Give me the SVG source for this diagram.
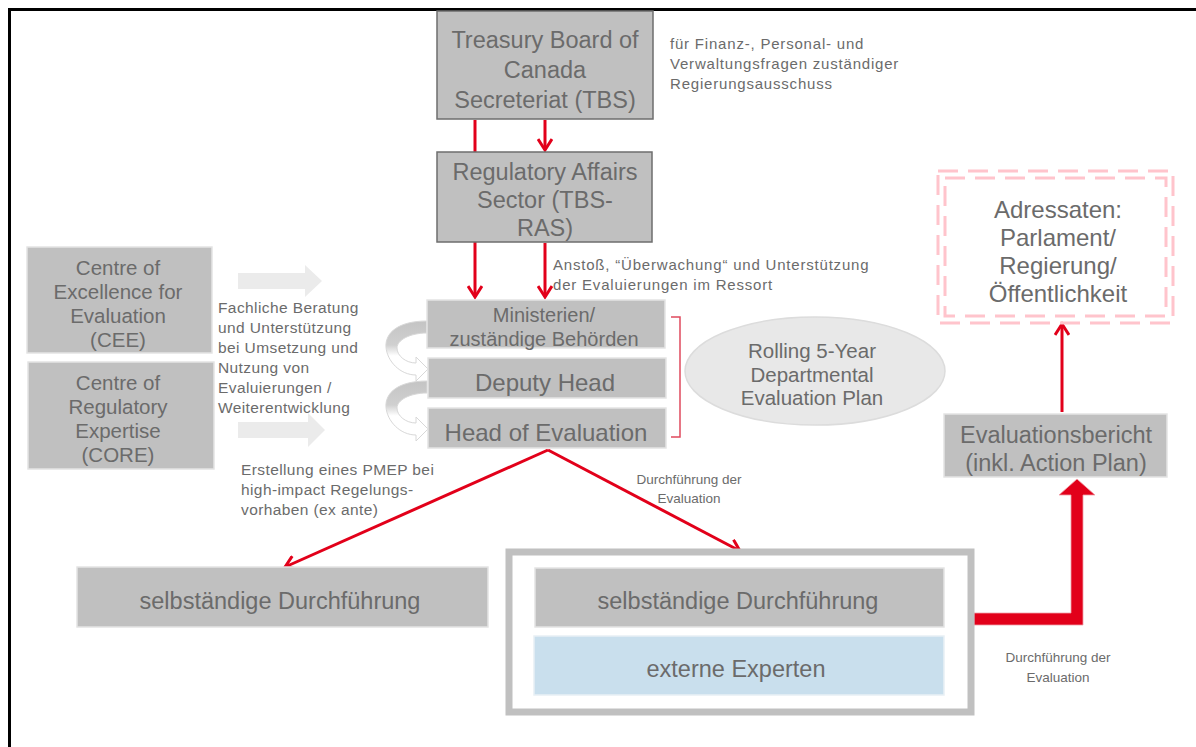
<svg xmlns="http://www.w3.org/2000/svg" width="1196" height="747" viewBox="0 0 1196 747">
<defs>
<style>
.t{font-family:"Liberation Sans",Arial,sans-serif;fill:#6b6b6b;text-anchor:middle}
.s{font-family:"Liberation Sans",Arial,sans-serif;fill:#6b6b6b}
.sm{font-size:15px;letter-spacing:0.8px}
.md{font-size:15.5px;letter-spacing:0.4px}
.box{fill:#c0c0c0;stroke:#e4e4e4;stroke-width:1.5}
.dbox{fill:#c0c0c0;stroke:#6e6e6e;stroke-width:1.5}
.red{stroke:#e2001a;stroke-width:3;fill:none}
.dash{fill:none;stroke:#ffc4cc;stroke-width:3;stroke-dasharray:20 10}
</style>
<marker id="ah2" markerWidth="16" markerHeight="16" refX="13" refY="8" orient="auto" markerUnits="userSpaceOnUse" viewBox="0 0 16 16">
<path d="M2,1 L13,8 L2,15" fill="none" stroke="#e2001a" stroke-width="3"/>
</marker>
<linearGradient id="cg" x1="0" y1="0" x2="0" y2="1">
<stop offset="0" stop-color="#c4c4c4"/>
<stop offset="0.4" stop-color="#d0d0d0"/>
<stop offset="0.58" stop-color="#ffffff"/>
<stop offset="1" stop-color="#ffffff"/>
</linearGradient>
</defs>
<rect x="0" y="0" width="1196" height="747" fill="#ffffff"/>
<rect x="9.5" y="9.5" width="1200" height="760" fill="none" stroke="#000" stroke-width="3"/>

<g id="connectors">
<line class="red" x1="475" y1="120" x2="475" y2="297" marker-end="url(#ah2)"/>
<line class="red" x1="545" y1="120" x2="545" y2="150" marker-end="url(#ah2)"/>
<line class="red" x1="545" y1="243" x2="545" y2="297" marker-end="url(#ah2)"/>
<line class="red" x1="548" y1="450" x2="285" y2="567" marker-end="url(#ah2)"/>
<line class="red" x1="548" y1="450" x2="740" y2="551" marker-end="url(#ah2)"/>
<line class="red" x1="1062" y1="412" x2="1062" y2="324" marker-end="url(#ah2)"/>
<path d="M974,613 L1071,613 L1071,495 L1059,495 L1077,479 L1095,495 L1083,495 L1083,625 L974,625 Z" fill="#e2001a" stroke="#f0a0a8" stroke-width="0.8"/>
<path d="M671,317 L680,317 L680,437 L671,437" fill="none" stroke="#e04a5e" stroke-width="1.5"/>
<path d="M238,273 L305,273 L305,265 L322,281 L305,297 L305,289 L238,289 Z" fill="#ebebeb"/>
<path d="M238,422 L308,422 L308,413 L325,430 L308,447 L308,438 L238,438 Z" fill="#ebebeb"/>
<path d="M427,321 C398,321 385,333 386,347 C387,361 400,375 416,375 L416,381 L428,369 L416,357 L416,363 C406,363 397,356 397,348 C397,340 410,333 427,333 Z" fill="url(#cg)" stroke="#d8d8d8" stroke-width="1"/>
<path d="M427,381 C398,381 385,393 386,407 C387,421 400,435 416,435 L416,441 L428,429 L416,417 L416,423 C406,423 397,416 397,408 C397,400 410,393 427,393 Z" fill="url(#cg)" stroke="#d8d8d8" stroke-width="1"/>
</g>

<g id="tbs">
<rect class="dbox" x="437" y="11" width="216" height="108"/>
<text class="t" font-size="23.5" x="545" y="48">Treasury Board of</text>
<text class="t" font-size="23.5" x="545" y="78">Canada</text>
<text class="t" font-size="23.5" x="545" y="108">Secreteriat (TBS)</text>
</g>
<text class="s sm" x="670" y="49">für Finanz-, Personal- und</text>
<text class="s sm" x="670" y="69">Verwaltungsfragen zuständiger</text>
<text class="s sm" x="670" y="89">Regierungsausschuss</text>

<g id="ras">
<rect class="dbox" x="437" y="152" width="215" height="90"/>
<text class="t" font-size="23.5" x="545" y="180">Regulatory Affairs</text>
<text class="t" font-size="23.5" x="545" y="208">Sector (TBS-</text>
<text class="t" font-size="23.5" x="545" y="236">RAS)</text>
</g>
<text class="s sm" x="553" y="270">Anstoß, “Überwachung“ und Unterstützung</text>
<text class="s sm" x="553" y="290">der Evaluierungen im Ressort</text>

<g id="cee">
<rect class="box" x="27" y="247" width="185" height="106"/>
<text class="t" font-size="20.5" x="118" y="275">Centre of</text>
<text class="t" font-size="20.5" x="118" y="299">Excellence for</text>
<text class="t" font-size="20.5" x="118" y="323">Evaluation</text>
<text class="t" font-size="20.5" x="118" y="347">(CEE)</text>
</g>
<g id="core">
<rect class="box" x="28" y="362" width="186" height="107"/>
<text class="t" font-size="20.5" x="118" y="390">Centre of</text>
<text class="t" font-size="20.5" x="118" y="414">Regulatory</text>
<text class="t" font-size="20.5" x="118" y="438">Expertise</text>
<text class="t" font-size="20.5" x="118" y="462">(CORE)</text>
</g>
<text class="s md" x="218" y="313">Fachliche Beratung</text>
<text class="s md" x="218" y="333">und Unterstützung</text>
<text class="s md" x="218" y="353">bei Umsetzung und</text>
<text class="s md" x="218" y="373">Nutzung von</text>
<text class="s md" x="218" y="393">Evaluierungen /</text>
<text class="s md" x="218" y="413">Weiterentwicklung</text>

<g id="ministerien">
<rect class="box" x="427" y="300" width="238" height="48"/>
<text class="t" font-size="20" x="544" y="322">Ministerien/</text>
<text class="t" font-size="20" x="544" y="346">zuständige Behörden</text>
</g>
<g id="deputy">
<rect class="box" x="428" y="358" width="238" height="40"/>
<text class="t" font-size="24" x="545" y="391">Deputy Head</text>
</g>
<g id="head">
<rect class="box" x="428" y="408" width="238" height="40"/>
<text class="t" font-size="24" x="546" y="441">Head of Evaluation</text>
</g>

<g id="plan">
<ellipse cx="815" cy="371" rx="130" ry="54" fill="#e8e8e8" stroke="#dcdcdc" stroke-width="1.5"/>
<text class="t" font-size="20.5" x="812" y="358">Rolling 5-Year</text>
<text class="t" font-size="20.5" x="812" y="382">Departmental</text>
<text class="t" font-size="20.5" x="812" y="405">Evaluation Plan</text>
</g>

<text class="s md" x="241" y="475">Erstellung eines PMEP bei</text>
<text class="s md" x="241" y="495">high-impact Regelungs-</text>
<text class="s md" x="241" y="515">vorhaben (ex ante)</text>
<text class="t" font-size="13.5" x="689" y="484">Durchführung der</text>
<text class="t" font-size="13.5" x="689" y="503">Evaluation</text>

<g id="selbst1">
<rect class="box" x="77" y="567" width="411" height="60"/>
<text class="t" font-size="23.5" x="280" y="609">selbständige Durchführung</text>
</g>

<g id="group">
<rect x="509" y="552" width="462" height="160" fill="#ffffff" stroke="#c0c0c0" stroke-width="7"/>
</g>
<g id="selbst2">
<rect class="box" x="535" y="568" width="409" height="59"/>
<text class="t" font-size="23.5" x="738" y="609">selbständige Durchführung</text>
</g>
<g id="extern">
<rect x="534" y="636" width="410" height="59" fill="#c9dfed" stroke="#e8f0f5" stroke-width="1.5"/>
<text class="t" font-size="23.5" x="736" y="677">externe Experten</text>
</g>
<text class="t" font-size="13.5" x="1058" y="662">Durchführung der</text>
<text class="t" font-size="13.5" x="1058" y="682">Evaluation</text>

<g id="bericht">
<rect class="box" x="944" y="414" width="223" height="63"/>
<text class="t" font-size="23.5" x="1056" y="443">Evaluationsbericht</text>
<text class="t" font-size="23.5" x="1056" y="471">(inkl. Action Plan)</text>
</g>

<g id="adressaten">
<rect class="dash" x="938" y="171" width="235" height="152"/>
<rect class="dash" x="945" y="178" width="221" height="138"/>
<text class="t" font-size="24" x="1058" y="218">Adressaten:</text>
<text class="t" font-size="24" x="1058" y="246">Parlament/</text>
<text class="t" font-size="24" x="1058" y="274">Regierung/</text>
<text class="t" font-size="24" x="1058" y="302">Öffentlichkeit</text>
</g>
</svg>
